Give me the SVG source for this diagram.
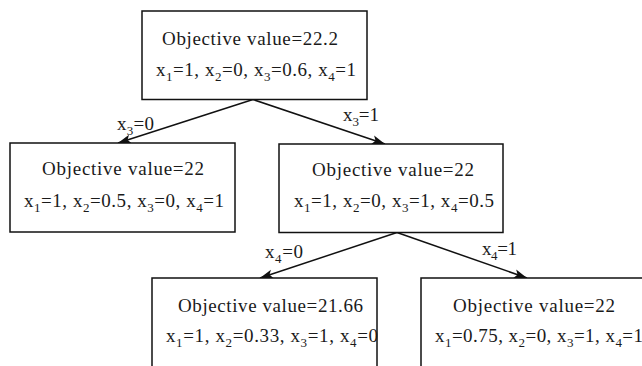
<svg xmlns="http://www.w3.org/2000/svg" width="642" height="366" viewBox="0 0 642 366">
<defs>
<style>
.box{fill:#fff;stroke:#111;stroke-width:1.5}
text{font-family:"Liberation Serif","Times New Roman",serif;font-size:19px;fill:#1a1a1a}
.sub{font-size:13px}
.edge{stroke:#111;stroke-width:1.5;fill:none;marker-end:url(#ah)}
</style>
<marker id="ah" markerUnits="userSpaceOnUse" markerWidth="14" markerHeight="10" refX="13" refY="5" orient="auto">
<path d="M0,0.5 L13,5 L0,9.5 L3,5 Z" fill="#111"/>
</marker>
</defs>
<rect width="642" height="366" fill="#fff"/>
<g id="connectors">
<line class="edge" x1="253" y1="99.5" x2="118" y2="143"/>
<line class="edge" x1="253" y1="99.5" x2="385" y2="144"/>
<line class="edge" x1="397" y1="232.5" x2="260" y2="278"/>
<line class="edge" x1="397" y1="232.5" x2="527" y2="278"/>
<text x="117" y="130" textLength="37" lengthAdjust="spacing">x<tspan class="sub" dy="5">3</tspan><tspan dy="-5">=0</tspan></text>
<text x="343" y="121" textLength="36" lengthAdjust="spacing">x<tspan class="sub" dy="5">3</tspan><tspan dy="-5">=1</tspan></text>
<text x="265" y="258" textLength="38" lengthAdjust="spacing">x<tspan class="sub" dy="5">4</tspan><tspan dy="-5">=0</tspan></text>
<text x="482" y="255" textLength="35" lengthAdjust="spacing">x<tspan class="sub" dy="5">4</tspan><tspan dy="-5">=1</tspan></text>
</g>
<g id="root">
<rect class="box" x="142" y="11" width="225" height="88.5"/>
<text x="162" y="44.5" textLength="176" lengthAdjust="spacing">Objective value=22.2</text>
<text x="156" y="76" textLength="200" lengthAdjust="spacing">x<tspan class="sub" dy="5">1</tspan><tspan dy="-5">=1, x</tspan><tspan class="sub" dy="5">2</tspan><tspan dy="-5">=0, x</tspan><tspan class="sub" dy="5">3</tspan><tspan dy="-5">=0.6, x</tspan><tspan class="sub" dy="5">4</tspan><tspan dy="-5">=1</tspan></text>
</g>
<g id="left">
<rect class="box" x="10" y="143" width="225" height="89"/>
<text x="42" y="175" textLength="162" lengthAdjust="spacing">Objective value=22</text>
<text x="24" y="207" textLength="200" lengthAdjust="spacing">x<tspan class="sub" dy="5">1</tspan><tspan dy="-5">=1, x</tspan><tspan class="sub" dy="5">2</tspan><tspan dy="-5">=0.5, x</tspan><tspan class="sub" dy="5">3</tspan><tspan dy="-5">=0, x</tspan><tspan class="sub" dy="5">4</tspan><tspan dy="-5">=1</tspan></text>
</g>
<g id="right">
<rect class="box" x="279" y="144" width="224" height="88.5"/>
<text x="312" y="176" textLength="162" lengthAdjust="spacing">Objective value=22</text>
<text x="294" y="207" textLength="200" lengthAdjust="spacing">x<tspan class="sub" dy="5">1</tspan><tspan dy="-5">=1, x</tspan><tspan class="sub" dy="5">2</tspan><tspan dy="-5">=0, x</tspan><tspan class="sub" dy="5">3</tspan><tspan dy="-5">=1, x</tspan><tspan class="sub" dy="5">4</tspan><tspan dy="-5">=0.5</tspan></text>
</g>
<g id="bottom-left">
<rect class="box" x="152" y="278" width="225" height="100"/>
<text x="178" y="312" textLength="185" lengthAdjust="spacing">Objective value=21.66</text>
<text x="166" y="342" textLength="212" lengthAdjust="spacing">x<tspan class="sub" dy="5">1</tspan><tspan dy="-5">=1, x</tspan><tspan class="sub" dy="5">2</tspan><tspan dy="-5">=0.33, x</tspan><tspan class="sub" dy="5">3</tspan><tspan dy="-5">=1, x</tspan><tspan class="sub" dy="5">4</tspan><tspan dy="-5">=0</tspan></text>
</g>
<g id="bottom-right">
<rect class="box" x="421" y="278" width="225" height="100"/>
<text x="453" y="311.5" textLength="162" lengthAdjust="spacing">Objective value=22</text>
<text x="435" y="342" textLength="208" lengthAdjust="spacing">x<tspan class="sub" dy="5">1</tspan><tspan dy="-5">=0.75, x</tspan><tspan class="sub" dy="5">2</tspan><tspan dy="-5">=0, x</tspan><tspan class="sub" dy="5">3</tspan><tspan dy="-5">=1, x</tspan><tspan class="sub" dy="5">4</tspan><tspan dy="-5">=1</tspan></text>
</g>
</svg>
